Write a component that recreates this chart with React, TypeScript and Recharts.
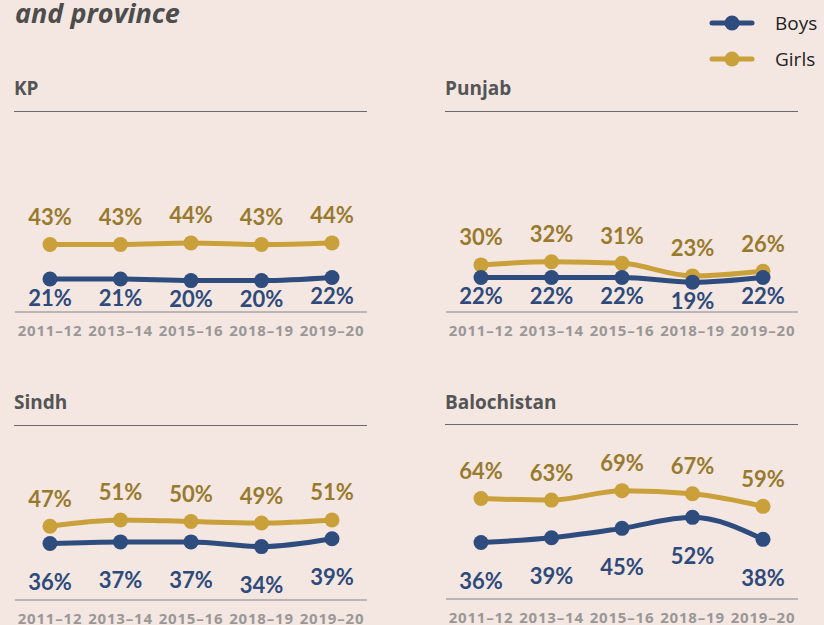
import React from 'react'
import { LineChart, Line, XAxis, YAxis, LabelList } from 'recharts'

const YEARS = ['2011–12', '2013–14', '2015–16', '2018–19', '2019–20']

const KP_BOYS = [21, 21, 20, 20, 22]
const KP_GIRLS = [43, 43, 44, 43, 44]
const PUNJAB_BOYS = [22, 22, 22, 19, 22]
const PUNJAB_GIRLS = [30, 32, 31, 23, 26]
const SINDH_BOYS = [36, 37, 37, 34, 39]
const SINDH_GIRLS = [47, 51, 50, 49, 51]
const BALOCHISTAN_BOYS = [36, 39, 45, 52, 38]
const BALOCHISTAN_GIRLS = [64, 63, 69, 67, 59]

const BG = '#F4E7E2'
const BOYS_COLOR = '#2F4C7E'
const BOYS_TEXT = '#2E4A7B'
const GIRLS_COLOR = '#C9A03A'
const GIRLS_TEXT = '#987A2D'
const FONT = 'Lato, "Open Sans", sans-serif'
const WIDE_FONT = '"Open Sans", "Noto Sans", sans-serif'

interface PanelProps {
  title: string
  boys: number[]
  girls: number[]
  left: number
  titleTop: number
  ruleTop: number
  top: number
  boysOffset: number
}

const makeLabel =
  (offset: number, color: string) =>
  (props: any) => {
    const { x, y, value } = props
    return (
      <text
        x={x}
        y={y + offset}
        textAnchor="middle"
        dominantBaseline="central"
        fill={color}
        fontSize={22}
        fontWeight={700}
        fontFamily={FONT}
      >
        {value}%
      </text>
    )
  }

const Panel: React.FC<PanelProps> = ({ title, boys, girls, left, titleTop, ruleTop, top, boysOffset }) => {
  const data = YEARS.map((year, i) => ({ year, boys: boys[i], girls: girls[i] }))
  return (
    <>
      <div
        style={{
          position: 'absolute',
          left: left - 1,
          top: titleTop - 12,
          fontFamily: WIDE_FONT,
          fontWeight: 700,
          fontSize: 19,
          color: '#555',
          lineHeight: '24px',
        }}
      >
        {title}
      </div>
      <div
        style={{
          position: 'absolute',
          left: left - 1,
          top: ruleTop,
          width: 353,
          height: 1,
          background: '#6a6a6a',
        }}
      />
      <div style={{ position: 'absolute', left: left, top: top }}>
        <LineChart width={352} height={215} data={data} margin={{ top: 25, right: 0, bottom: 0, left: 0 }}>
          <YAxis hide domain={[0, 100]} />
          <XAxis
            dataKey="year"
            height={33}
            padding={{ left: 35, right: 35 }}
            axisLine={{ stroke: '#a9a5a4', strokeWidth: 1.5 }}
            tickLine={false}
            tickMargin={7}
            interval={0}
            tick={{ fill: '#9a9797', fontSize: 15, fontWeight: 700, fontFamily: WIDE_FONT, letterSpacing: 0.8 }}
          />
          <Line
            type="monotone"
            dataKey="girls"
            stroke={GIRLS_COLOR}
            strokeWidth={5}
            dot={{ r: 7.5, fill: GIRLS_COLOR, stroke: GIRLS_COLOR, strokeWidth: 0 }}
            isAnimationActive={false}
          >
            <LabelList dataKey="girls" content={makeLabel(-28, GIRLS_TEXT)} />
          </Line>
          <Line
            type="monotone"
            dataKey="boys"
            stroke={BOYS_COLOR}
            strokeWidth={5}
            dot={{ r: 7.5, fill: BOYS_COLOR, stroke: BOYS_COLOR, strokeWidth: 0 }}
            isAnimationActive={false}
          >
            <LabelList dataKey="boys" content={makeLabel(boysOffset, BOYS_TEXT)} />
          </Line>
        </LineChart>
      </div>
    </>
  )
}

const LegendItem: React.FC<{ color: string; label: string; top: number }> = ({ color, label, top }) => (
  <div style={{ position: 'absolute', left: 708, top: top - 12, height: 24, display: 'flex', alignItems: 'center' }}>
    <svg width={48} height={24}>
      <line x1={4} y1={12} x2={44} y2={12} stroke={color} strokeWidth={5} strokeLinecap="round" />
      <circle cx={24} cy={12} r={7.5} fill={color} />
    </svg>
    <span style={{ marginLeft: 19, fontFamily: WIDE_FONT, fontSize: 19, color: '#222', whiteSpace: 'nowrap' }}>
      {label}
    </span>
  </div>
)

export default function App() {
  return (
    <div
      style={{
        position: 'absolute',
        left: 0,
        top: 0,
        width: 824,
        height: 625,
        background: BG,
        overflow: 'hidden',
      }}
    >
      <div
        style={{
          position: 'absolute',
          left: 15,
          top: -5,
          fontFamily: WIDE_FONT,
          fontStyle: 'italic',
          fontWeight: 700,
          fontSize: 27,
          color: '#4d4d4d',
          lineHeight: '36px',
          whiteSpace: 'nowrap',
        }}
      >
        and province
      </div>
      <LegendItem color={BOYS_COLOR} label="Boys" top={23} />
      <LegendItem color={GIRLS_COLOR} label="Girls" top={59} />
      <Panel title="KP" boys={KP_BOYS} girls={KP_GIRLS} left={15} titleTop={88} ruleTop={111} top={130} boysOffset={18} />
      <Panel
        title="Punjab"
        boys={PUNJAB_BOYS}
        girls={PUNJAB_GIRLS}
        left={446}
        titleTop={88}
        ruleTop={111}
        top={130}
        boysOffset={18}
      />
      <Panel
        title="Sindh"
        boys={SINDH_BOYS}
        girls={SINDH_GIRLS}
        left={15}
        titleTop={402}
        ruleTop={425}
        top={418}
        boysOffset={38}
      />
      <Panel
        title="Balochistan"
        boys={BALOCHISTAN_BOYS}
        girls={BALOCHISTAN_GIRLS}
        left={446}
        titleTop={402}
        ruleTop={424}
        top={417}
        boysOffset={38}
      />
    </div>
  )
}
